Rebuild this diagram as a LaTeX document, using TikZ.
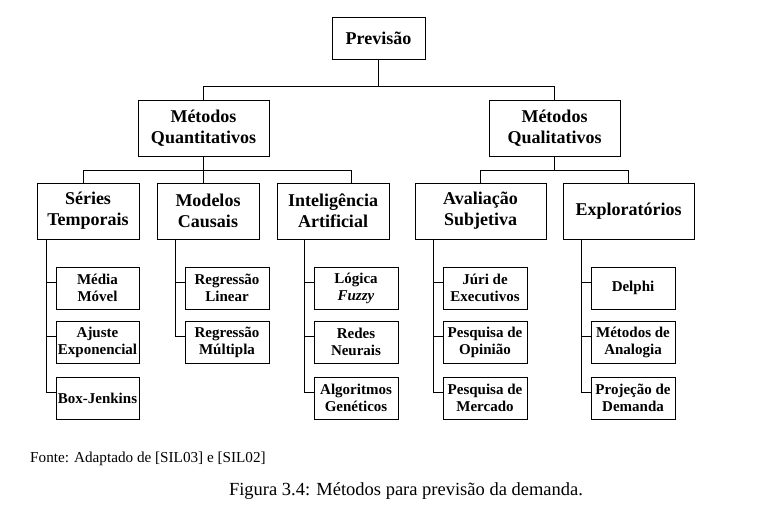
\documentclass[tikz,border=0pt]{standalone}
\usepackage{fontspec}
\setmainfont{Liberation Serif}
\usetikzlibrary{calc}
\tikzstyle{group} = [rectangle, draw=black, line width=0.9pt, inner sep=0pt, minimum height=56pt, align=center, font=\bfseries\fontsize{18}{21}\selectfont]
\tikzstyle{method} = [rectangle, draw=black, line width=0.9pt, inner sep=0pt, minimum width=84pt, minimum height=42pt, align=center, font=\bfseries\fontsize{15}{17}\selectfont]
\tikzstyle{line} = [line width=0.9pt]
\tikzstyle{note} = [inner sep=0pt]

\begin{document}
\begin{tikzpicture}[x=1pt, y=-1pt]
    \useasboundingbox (0,0) rectangle (767,510);

    \node (prev)[group, minimum width=93pt, minimum height=42pt] at (378.5,38) {Previsão};
    \node (quant)[group, minimum width=131pt] at (203.5,128) {Métodos\\Quantitativos};
    \node (qual)[group, minimum width=131pt] at (554.5,128) {Métodos\\Qualitativos};

    \node (series)[group, minimum width=102pt] at (88,211) {Séries\\Temporais};
    \node (causal)[group, minimum width=102pt] at (208,211) {Modelos\\Causais};
    \node (ia)[group, minimum width=112pt] at (333,211) {Inteligência\\Artificial};
    \node (subj)[group, minimum width=131pt] at (480.5,211) {Avaliação\\Subjetiva};
    \node (explo)[group, minimum width=131pt] at (628.5,211) {Exploratórios};

    \node (mm)[method, minimum width=83pt] at (97.5,288) {Média\\Móvel};
    \node (ae)[method, minimum width=83pt] at (97.5,342) {Ajuste\\Exponencial};
    \node (bj)[method, minimum width=83pt] at (97.5,398) {Box-Jenkins};
    \node (rl)[method] at (227,288) {Regressão\\Linear};
    \node (rm)[method] at (227,342) {Regressão\\Múltipla};
    \node (lf)[method] at (356,288) {Lógica\\\textit{Fuzzy}};
    \node (rn)[method] at (356,342) {Redes\\Neurais};
    \node (ag)[method] at (356,398) {Algoritmos\\Genéticos};
    \node (je)[method] at (485,288) {Júri de\\Executivos};
    \node (po)[method] at (485,342) {Pesquisa de\\Opinião};
    \node (pm)[method] at (485,398) {Pesquisa de\\Mercado};
    \node (dl)[method] at (633,288) {Delphi};
    \node (ma)[method] at (633,342) {Métodos de\\Analogia};
    \node (pd)[method] at (633,398) {Projeção de\\Demanda};

    % barramentos
    \coordinate (b0) at ($(prev.south)+(0,27)$);
    \coordinate (b1) at ($(quant.south)+(0,14)$);
    \coordinate (b2) at ($(qual.south)+(0,14)$);

    \draw[line] (prev.south) -- (b0) -| (quant.north);
    \draw[line] (b0) -| (qual.north);
    \draw[line] (quant.south) -- (b1) -| ([xshift=-5pt]series.north);
    \draw[line] (b1) -| ([xshift=-5pt]causal.north);
    \draw[line] (b1) -| ([xshift=18pt]ia.north);
    \draw[line] (qual.south) -- (b2) -| (subj.north);
    \draw[line] (b2) -| (explo.north);

    \foreach \p/\c in {series/mm, series/ae, series/bj, causal/rl, causal/rm, ia/lf, ia/rn, ia/ag, subj/je, subj/po, subj/pm, explo/dl, explo/ma, explo/pd}
        \draw[line] (\p.south -| \c.west) ++(-9,0) |- ([yshift=6pt]\c.west);

    \node (fonte)[note, anchor=base west, font=\fontsize{15.2}{18}\selectfont] at (30,462) {Fonte: Adaptado de [SIL03] e [SIL02]};
    \node (legenda)[note, anchor=base, font=\fontsize{18.5}{22}\selectfont] at (406,495) {Figura 3.4: Métodos para previsão da demanda.};
\end{tikzpicture}
\end{document}
